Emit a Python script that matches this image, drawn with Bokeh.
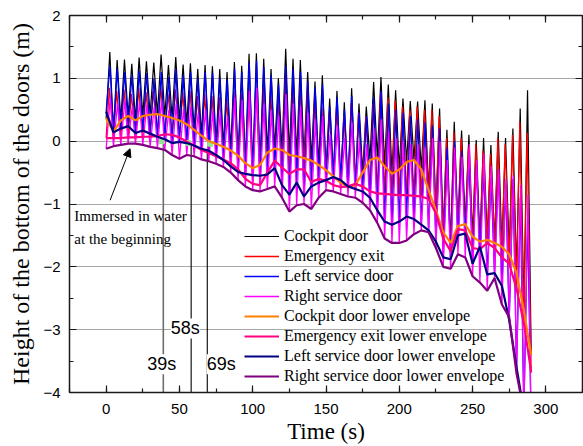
from bokeh.plotting import figure
from bokeh.models import (LinearAxis, SingleIntervalTicker, FixedTicker, Legend, LegendItem,
                          Label, Arrow, NormalHead, CustomJSTickFormatter)
from bokeh.embed import file_html
from bokeh.resources import INLINE

# ---------------- data ----------------
t_env = [0, 5, 10, 15, 20, 25, 30, 35, 40, 45, 50, 55, 60, 65, 70, 75, 80, 85, 90, 95,
         100, 105, 110, 115, 120, 125, 130, 135, 140, 145, 150, 155, 160, 165, 170, 175,
         180, 185, 190, 195, 200, 205, 210, 215, 220, 225, 230, 235, 240, 245, 250, 255,
         260, 265, 270, 275, 280, 285, 290]

cockpit_env = [0.36, 0.15, 0.33, 0.40, 0.33, 0.40, 0.42, 0.43, 0.40, 0.37, 0.33, 0.27, 0.18,
               0.09, 0.00, -0.04, -0.09, -0.15, -0.23, -0.35, -0.43, -0.38, -0.18, -0.12,
               -0.14, -0.22, -0.24, -0.27, -0.31, -0.38, -0.46, -0.56, -0.66, -0.73, -0.70,
               -0.50, -0.30, -0.26, -0.40, -0.52, -0.45, -0.33, -0.30, -0.45, -0.78, -1.10,
               -1.45, -1.62, -1.35, -1.32, -1.52, -1.60, -1.57, -1.62, -1.68, -1.80, -2.10,
               -2.70, -3.40]
emerg_env = [0.05, 0.05, 0.05, 0.06, 0.06, 0.07, 0.07, 0.08, 0.11, 0.10, 0.06, -0.01, -0.07,
             -0.14, -0.19, -0.24, -0.29, -0.35, -0.45, -0.60, -0.68, -0.70, -0.50, -0.31,
             -0.42, -0.52, -0.45, -0.45, -0.65, -0.60, -0.63, -0.70, -0.73, -0.72, -0.68,
             -0.72, -0.80, -0.83, -0.84, -0.85, -0.86, -0.86, -0.87, -0.88, -0.92, -1.15,
             -1.55, -1.75, -1.40, -1.42, -1.70, -1.72, -1.62, -1.70, -1.85, -1.95, -2.35,
             -2.90, -3.68]
left_env = [0.47, 0.14, 0.20, 0.24, 0.13, 0.17, 0.12, 0.07, 0.03, -0.03, -0.01, -0.03, -0.07,
            -0.12, -0.15, -0.22, -0.30, -0.40, -0.49, -0.52, -0.54, -0.55, -0.53, -0.43,
            -0.70, -0.85, -0.66, -0.88, -0.72, -0.66, -0.62, -0.57, -0.62, -0.72, -0.76,
            -0.80, -0.90, -1.10, -1.28, -1.33, -1.28, -1.20, -1.24, -1.33, -1.42, -1.60,
            -1.85, -1.88, -1.50, -1.47, -1.95, -1.68, -2.12, -2.10, -2.30, -2.85, -3.60,
            -4.30, -4.60]
right_env = [-0.12, -0.08, -0.06, -0.04, -0.04, -0.06, -0.09, -0.11, -0.14, -0.22, -0.28,
             -0.22, -0.24, -0.29, -0.32, -0.36, -0.41, -0.50, -0.62, -0.72, -0.78, -0.80,
             -0.76, -0.72, -0.90, -1.12, -1.02, -1.00, -1.08, -0.90, -0.78, -0.80, -0.84,
             -0.88, -0.90, -0.98, -1.10, -1.30, -1.55, -1.62, -1.62, -1.58, -1.48, -1.42,
             -1.45, -1.70, -2.00, -2.03, -1.80, -1.85, -2.15, -2.25, -2.38, -2.18, -2.60,
             -2.80, -3.70, -4.30, -4.60]

cockpit_peak = [1.42, 1.29, 1.30, 1.23, 1.33, 1.27, 1.25, 1.38, 1.21, 1.34, 1.22, 1.24, 1.15,
                1.21, 1.19, 1.15, 1.10, 1.26, 1.20, 1.39, 1.40, 1.31, 1.15, 1.00, 1.47, 1.31,
                1.29, 1.10, 0.95, 1.05, 0.68, 0.80, 0.62, 0.84, 0.60, 0.55, 0.94, 1.02, 0.90,
                0.81, 0.68, 0.64, 0.63, 0.65, 0.60, 0.52, 0.18, 0.31, 0.17, 0.10, 0.02, 0.05,
                -0.06, 0.15, 0.05, 0.20, 0.52, 0.81]
emerg_peak = [0.85, 0.80, 0.82, 0.75, 0.85, 0.78, 0.80, 0.88, 0.75, 0.82, 0.78, 0.80, 0.72,
              0.75, 0.72, 0.70, 0.68, 0.80, 0.75, 0.85, 0.90, 0.85, 0.75, 0.65, 1.00, 0.90,
              0.85, 0.80, 0.70, 0.55, 0.45, 0.55, 0.40, 0.60, 0.45, 0.40, 0.60, 0.75, 0.70,
              0.65, 0.55, 0.50, 0.55, 0.50, 0.50, 0.40, 0.05, 0.15, 0.05, -0.10, -0.05, -0.15,
              -0.20, 0.05, -0.05, 0.10, 0.31, 0.13]
left_peak = [1.20, 1.15, 1.10, 1.05, 1.12, 1.08, 1.00, 1.10, 1.02, 1.15, 1.05, 1.10, 1.00,
             1.10, 1.08, 1.00, 0.98, 1.15, 1.10, 1.25, 1.28, 1.18, 1.05, 0.90, 1.20, 1.15,
             1.10, 0.95, 0.85, 0.90, 0.55, 0.70, 0.50, 0.72, 0.45, 0.40, 0.70, 0.80, 0.60,
             0.50, 0.45, 0.40, 0.35, 0.30, 0.25, 0.20, -0.10, 0.00, -0.15, -0.30, -0.40, -0.50,
             -0.60, -0.45, -0.70, -0.60, -0.90, -1.20]
right_peak = [0.70, 0.60, 0.65, 0.55, 0.62, 0.58, 0.55, 0.65, 0.50, 0.60, 0.52, 0.55, 0.45,
              0.50, 0.48, 0.45, 0.40, 0.70, 0.65, 0.80, 0.85, 0.60, 0.50, 0.40, 0.75, 0.60,
              0.55, 0.45, 0.35, 0.40, 0.10, 0.25, 0.05, 0.30, 0.00, -0.05, 0.20, 0.35, 0.15,
              0.05, 0.00, -0.05, -0.05, -0.10, 0.05, 0.00, -0.30, -0.10, -0.25, -0.05, -0.30,
              -0.20, -0.40, -0.45, -0.60, -0.55, -0.70, -0.85]

mark_t = [39, 58, 69]
mark_top = [0.05, -0.03, -0.12]
mark_text = ["39s", "58s", "69s"]
green_t = [38, 56, 71]
green_v = [0.0, -0.03, -0.04]

names = ["Cockpit door", "Emergency exit", "Left service door", "Right service door",
         "Cockpit door lower envelope", "Emergency exit lower envelope",
         "Left service door lower envelope", "Right service door lower envelope"]


def zigzag(env, peaks, phase):
    n = min(len(peaks), len(env) - 1)
    xs, ys = [], []
    for k in range(n):
        xs += [t_env[k], t_env[k] + phase]
        ys += [env[k], peaks[k]]
    xs.append(t_env[n])
    ys.append(env[n])
    return xs, ys


SERIF = "Liberation Serif"
SANS = "Liberation Sans"

p = figure(width=583, height=446, x_range=(-25, 325), y_range=(-4, 2),
           output_backend="svg", toolbar_location=None,
           min_border_left=69, min_border_right=1, min_border_top=15, min_border_bottom=53)
p.outline_line_color = None
p.background_fill_color = "white"

blank = CustomJSTickFormatter(code="return ''")


def style_axis(ax, labels=True, title_size="24px"):
    ax.axis_line_color = "#1a1a1a"
    ax.axis_line_width = 1.5
    ax.major_tick_in = 7
    ax.major_tick_out = 0
    ax.minor_tick_in = 4
    ax.minor_tick_out = 0
    ax.major_tick_line_color = "#1a1a1a"
    ax.minor_tick_line_color = "#1a1a1a"
    ax.major_tick_line_width = 1.2
    ax.minor_tick_line_width = 1.2
    if labels:
        ax.major_label_text_font = SANS
        ax.major_label_text_font_size = "15px"
        ax.major_label_text_color = "black"
        ax.axis_label_text_font = SERIF
        ax.axis_label_text_font_size = title_size
        ax.axis_label_text_font_style = "normal"
        ax.axis_label_text_color = "black"
    else:
        ax.formatter = blank
        ax.major_label_standoff = 0


p.xaxis.ticker = SingleIntervalTicker(interval=50, num_minor_ticks=2)
p.yaxis.ticker = SingleIntervalTicker(interval=1, num_minor_ticks=2)
style_axis(p.xaxis[0], title_size="23px")
style_axis(p.yaxis[0], title_size="24px")
p.xaxis.axis_label = "Time (s)"
p.yaxis.axis_label = "Height of the bottom of the doors (m)"
p.xaxis.major_label_standoff = 11
p.xaxis.axis_label_standoff = 2
p.yaxis.major_label_standoff = 9
p.yaxis.axis_label_standoff = 6

top = LinearAxis(ticker=SingleIntervalTicker(interval=50, num_minor_ticks=2))
style_axis(top, labels=False)
p.add_layout(top, "above")
right = LinearAxis(ticker=SingleIntervalTicker(interval=1, num_minor_ticks=2))
style_axis(right, labels=False)
p.add_layout(right, "right")

p.xgrid.visible = False
p.ygrid.ticker = FixedTicker(ticks=[-3, -2, -1, 0, 1])
p.ygrid.grid_line_color = "#a8a8a8"
p.ygrid.grid_line_width = 1.2

# vertical marker lines
p.segment(x0=mark_t, y0=[-4] * len(mark_t), x1=mark_t, y1=mark_top,
          line_color=["#6e6e6e", "#000000", "#000000"], line_width=[1.6, 1.1, 1.1])

colors = ["#000000", "#ff0000", "#0000ff", "#ff00ff", "#ff8000", "#ff0080", "#000080", "#800080"]
widths = [1.2, 1.3, 1.3, 1.3]
envs = [cockpit_env, emerg_env, left_env, right_env]
peaks = [cockpit_peak, emerg_peak, left_peak, right_peak]
phases = [2.5, 2.2, 2.6, 2.8]

rends = []
for i in range(4):
    xs, ys = zigzag(envs[i], peaks[i], phases[i])
    rends.append(p.line(xs, ys, line_color=colors[i], line_width=widths[i]))

p.scatter(green_t, green_v, marker="square", size=5, fill_color="#8fe88f",
          line_color="#8fe88f")

for i in range(4):
    rends.append(p.line(t_env, envs[i], line_color=colors[4 + i], line_width=2.2))

legend = Legend(items=[LegendItem(label=names[i], renderers=[rends[i]]) for i in range(8)],
                location=(175, 6))
legend.label_text_font = SERIF
legend.label_text_font_size = "16px"
legend.label_text_color = "black"
legend.glyph_width = 35
legend.glyph_height = 20
legend.label_height = 20
legend.label_standoff = 5
legend.spacing = 0
legend.padding = 3
legend.margin = 0
legend.border_line_color = None
legend.background_fill_alpha = 0.0
p.add_layout(legend)

label_x = [38, 54, 78.5]
label_y = [-3.55, -2.98, -3.55]
for i in range(3):
    p.add_layout(Label(x=label_x[i], y=label_y[i], text=mark_text[i], text_align="center",
                       text_baseline="middle", text_font=SANS, text_font_size="18px",
                       text_color="black", background_fill_color="white",
                       background_fill_alpha=1.0))

note_lines = ["Immersed in water", "at the beginning"]
note_y = [-1.19, -1.55]
for i in range(2):
    p.add_layout(Label(x=-21.7, y=note_y[i], text=note_lines[i], text_align="left",
                       text_baseline="middle", text_font=SERIF, text_font_size="15px",
                       text_color="black"))

p.add_layout(Arrow(end=NormalHead(size=8, fill_color="black", line_color="black"),
                   x_start=2.7, y_start=-0.94, x_end=16.3, y_end=-0.12,
                   line_color="black", line_width=1))

open("out.html", "w").write(file_html(p, INLINE))
